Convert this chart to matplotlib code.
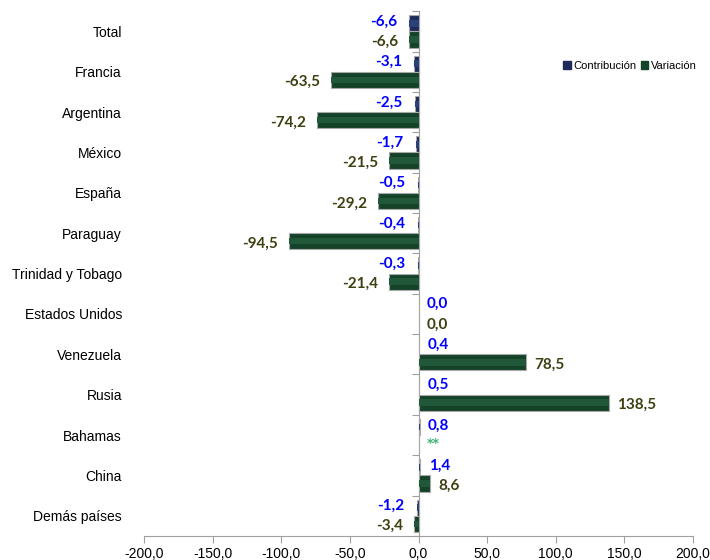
import numpy as np
import matplotlib.pyplot as plt

# ================= 数据 =================
paises = ['Total', 'Francia', 'Argentina', 'México', 'España', 'Paraguay',
          'Trinidad y Tobago', 'Estados Unidos', 'Venezuela', 'Rusia',
          'Bahamas', 'China', 'Demás países']
contribucion = [-6.6, -3.1, -2.5, -1.7, -0.5, -0.4, -0.3, 0.0, 0.4, 0.5, 0.8, 1.4, -1.2]
variacion = [-6.6, -63.5, -74.2, -21.5, -29.2, -94.5, -21.4, 0.0, 78.5, 138.5, np.nan, 8.6, -3.4]
# Bahamas sin variación calculable -> "**"
xticks = [-200, -150, -100, -50, 0, 50, 100, 150, 200]
# =======================================

def fmt(v):
    return f"{v:.1f}".replace('.', ',')

C_CONT = '#1C2B5A'
C_CONT_HI = '#2A417A'
C_VAR = '#15432A'
C_VAR_HI = '#22583A'
C_EDGE = '#A8A8A8'

fig = plt.figure(figsize=(7.1, 5.6), dpi=100)
ax = fig.add_axes([0.203, 0.043, 0.773, 0.937])

pos = np.arange(len(paises))
h = 0.4
cont = np.array(contribucion)
var = np.array(variacion)
var_plot = np.nan_to_num(var)

# barras con un ligero efecto de bisel
ax.barh(pos - h / 2, cont, height=h, color=C_CONT, edgecolor=C_EDGE, linewidth=0.8, zorder=2)
ax.barh(pos - h / 2, cont, height=h * 0.4, color=C_CONT_HI, linewidth=0, zorder=3)
ax.barh(pos + h / 2, var_plot, height=h, color=C_VAR, edgecolor=C_EDGE, linewidth=0.8, zorder=2)
ax.barh(pos + h / 2, var_plot, height=h * 0.4, color=C_VAR_HI, linewidth=0, zorder=3)

lab_font = dict(family=['Lato', 'DejaVu Sans'], fontsize=11, fontweight='bold')
for i in range(len(paises)):
    c = cont[i]
    off = -9 if c < 0 else 6
    ax.annotate(fmt(c), (c, pos[i] - 0.24), xytext=(off, 0), textcoords='offset points',
                ha='right' if c < 0 else 'left', va='center', color='#0000FF', **lab_font)
    v = var[i]
    if np.isnan(v):
        ax.annotate('**', (0, pos[i] + 0.2), xytext=(6, 0), textcoords='offset points',
                    ha='left', va='center', color='#3CB371', family='DejaVu Sans',
                    fontsize=9, fontweight='bold')
    else:
        off = -8 if v < 0 else 6
        ax.annotate(fmt(v), (v, pos[i] + 0.26), xytext=(off, 0), textcoords='offset points',
                    ha='right' if v < 0 else 'left', va='center', color='#3F3F12', **lab_font)

ax.set_xlim(-200, 200)
ax.set_ylim(len(paises) - 0.5, -0.5)
ax.set_xticks(xticks)
ax.set_xticklabels([fmt(t) for t in xticks], family='Liberation Sans', fontsize=10)
ax.set_yticks(pos)
ax.set_yticklabels(paises, family='Liberation Sans', fontsize=10)
ax.tick_params(axis='y', length=0, pad=16)
ax.tick_params(axis='x', direction='out', length=5, color='#A0A0A0', pad=3)

for s in ['top', 'right', 'left']:
    ax.spines[s].set_visible(False)
ax.spines['bottom'].set_color('#A0A0A0')

# eje vertical en cero con marcas entre categorías
sec = ax.secondary_yaxis(0.5)
sec.set_alignment('left')
sec.set_yticks(np.arange(len(paises) + 1) - 0.5)
sec.tick_params(axis='y', direction='out', length=5, color='#A0A0A0', labelleft=False, labelright=False)
sec.spines['left'].set_color('#A0A0A0')

# leyenda
hs = [plt.Rectangle((0, 0), 1, 1, color=C_CONT), plt.Rectangle((0, 0), 1, 1, color=C_VAR)]
fig.legend(hs, ['Contribución', 'Variación'], loc='center right', bbox_to_anchor=(0.995, 0.883),
           ncol=2, frameon=False, prop={'family': 'Liberation Sans', 'size': 8},
           handlelength=0.7, handleheight=0.7, handletextpad=0.2, columnspacing=0.4)

fig.savefig('out.png', dpi=100)
